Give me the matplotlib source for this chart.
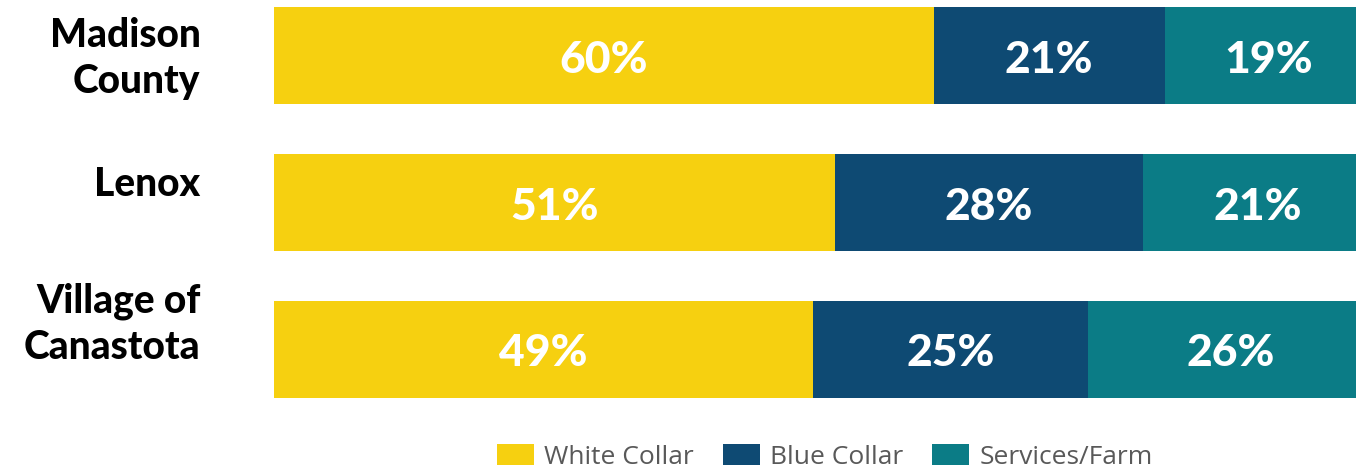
import matplotlib
matplotlib.use("Agg")
import matplotlib.pyplot as plt
from matplotlib.patches import Patch
from matplotlib.transforms import ScaledTranslation

categories = ["Madison\nCounty", "Lenox", "Village of\nCanastota"]
series_names = ["White Collar", "Blue Collar", "Services/Farm"]
white_collar = [60, 51, 49]
blue_collar = [21, 28, 25]
services_farm = [19, 21, 26]
colors = ["#F6D010", "#0E4A73", "#0B7C86"]

W, H = 1356, 470
fig = plt.figure(figsize=(W / 100, H / 100), dpi=100)
ax = fig.add_axes([274 / W, 0, 1 - 274 / W, 1])

series = [white_collar, blue_collar, services_farm]
ypos = list(range(len(categories)))
left = [0] * len(categories)
down = ScaledTranslation(0, -4 / 100, fig.dpi_scale_trans)
for vals, col in zip(series, colors):
    ax.barh(ypos, vals, left=left, height=0.66, color=col, edgecolor="none")
    for y, l, v in zip(ypos, left, vals):
        ax.text(l + v / 2, y, f"{v}%", ha="center", va="center", color="white",
                fontsize=32, fontweight=900, family="Lato",
                transform=ax.transData + down)
    left = [a + b for a, b in zip(left, vals)]

ax.set_xlim(0, 98.4)
ax.set_ylim(2.82, -0.378)
ax.set_yticks(ypos)
ax.set_yticklabels(categories, fontsize=28, fontweight=900, family="Lato",
                   ha="right", linespacing=1.3)
ax.tick_params(axis="y", length=0, pad=53)
# label vertical nudges (pixels, up positive) to mimic the reference layout
nudges = [5, 22, 33]
for lab, n in zip(ax.get_yticklabels(), nudges):
    lab.set_transform(lab.get_transform() + ScaledTranslation(0, n / 100, fig.dpi_scale_trans))
ax.set_xticks([])
for s in ax.spines.values():
    s.set_visible(False)

handles = [Patch(facecolor=c, edgecolor="none") for c in colors]
fig.legend(handles, series_names, loc="center", bbox_to_anchor=(825 / W, 1 - 457 / H),
           ncol=3, frameon=False, handlelength=1.4, handleheight=0.83,
           handletextpad=0.38, columnspacing=1.1, labelcolor="#595959",
           prop={"family": "Open Sans", "size": 19})

fig.savefig("out.png", dpi=100)
